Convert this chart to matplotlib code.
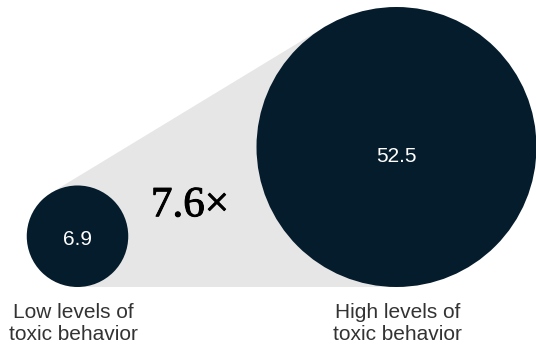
import numpy as np
import matplotlib.pyplot as plt
import matplotlib.patheffects as pe
from matplotlib.patches import Circle, Polygon

labels = ["Low levels of\ntoxic behavior", "High levels of\ntoxic behavior"]
values = [6.9, 52.5]
ratio_label = "7.6×"

navy = "#051c2c"
grey = "#e6e6e6"

fig = plt.figure(figsize=(5.36, 3.54), dpi=100)
ax = fig.add_axes([0, 0, 1, 1])
ax.set_xlim(0, 536)
ax.set_ylim(354, 0)
ax.set_aspect("equal")
ax.axis("off")

# circle area proportional to value, both resting on one baseline
base_y = 287
k = 140 / np.sqrt(max(values))
radii = [k * np.sqrt(v) for v in values]
cx = [77.5, 396.5]
centers = [np.array([cx[i], base_y - radii[i]]) for i in range(2)]

# upper external tangent between the two circles (y axis points down)
c1, c2 = centers
r1, r2 = radii
d = c2 - c1
D = np.hypot(*d)
d = d / D
cos_t = (r2 - r1) / D
sin_t = np.sqrt(1 - cos_t ** 2)
n = np.array([d[0] * cos_t + d[1] * sin_t, -d[0] * sin_t + d[1] * cos_t])
if n[1] < 0:
    n = np.array([d[0] * cos_t - d[1] * sin_t, d[0] * sin_t + d[1] * cos_t])
p1 = c1 - r1 * n
p2 = c2 - r2 * n
poly = Polygon([p1, p2, [c2[0], base_y], [c1[0], base_y]], closed=True,
               facecolor=grey, edgecolor="none", zorder=1)
ax.add_patch(poly)

for i in range(2):
    ax.add_patch(Circle(centers[i], radii[i], facecolor=navy, edgecolor="none", zorder=2))
    ax.text(centers[i][0], centers[i][1] + radii[i] * 0.065, f"{values[i]}",
            color="white", fontsize=15, family="Liberation Sans",
            ha="center", va="center", zorder=3)
    ax.text(centers[i][0] - 4 if i == 0 else centers[i][0] + 1, 303, labels[i],
            color="#333333", fontsize=15, family="Liberation Sans",
            ha="center", va="top", linespacing=1.2)

ax.text(190, 206, ratio_label, fontsize=31, family="Liberation Serif",
        color="black", ha="center", va="center", zorder=3,
        path_effects=[pe.withStroke(linewidth=0.7, foreground="black")])

fig.savefig("out.png", dpi=100)
